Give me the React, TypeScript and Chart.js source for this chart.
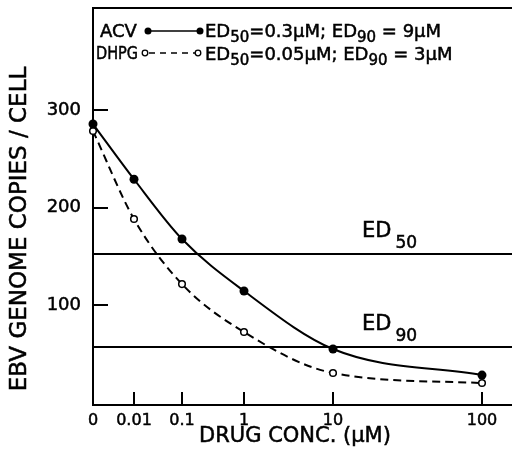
import React, { useEffect, useRef } from 'react';
import { Chart, registerables, LinearScale } from 'chart.js';

// ---------------- data ----------------
const CONCENTRATIONS = [0, 0.01, 0.1, 1, 10, 100];
const X_TICK_LABELS = ['0', '0.01', '0.1', '1', '10', '100'];
const ACV_COPIES = [285.6, 229, 167.7, 114.4, 54.9, 28.2];
const DHPG_COPIES = [278.5, 188.2, 121.5, 72.3, 30.3, 20];
const Y_TICKS = [100, 200, 300];
const ED50_LEVEL = 152;
const ED90_LEVEL = 57;

// hand-drawn, non-uniform x axis: fraction of axis length at which each concentration tick sits
const X_AXIS_FRACTIONS = [0, 41 / 419, 89 / 419, 151 / 419, 240 / 419, 389 / 419];

const FONT = "'DejaVu Sans', sans-serif";
const TEXT_STROKE = 0.5;

function fracFor(v: number): number {
  const c = CONCENTRATIONS;
  const f = X_AXIS_FRACTIONS;
  if (v <= 0) return 0;
  if (v <= c[1]) return (v / c[1]) * f[1];
  for (let i = 1; i < c.length - 1; i++) {
    if (v <= c[i + 1]) {
      const t = (Math.log10(v) - Math.log10(c[i])) / (Math.log10(c[i + 1]) - Math.log10(c[i]));
      return f[i] + t * (f[i + 1] - f[i]);
    }
  }
  const n = c.length - 1;
  const t = (Math.log10(v) - Math.log10(c[n])) / (Math.log10(c[n]) - Math.log10(c[n - 1]));
  return f[n] + t * (f[n] - f[n - 1]);
}

class PiecewiseScale extends LinearScale {
  static id = 'piecewise';
  static defaults = LinearScale.defaults;
  axisEnd() {
    const self = this as any;
    return self.chart && self.chart.width ? self.chart.width : self.right;
  }
  getPixelForValue(value: number) {
    if (value === null || value === undefined || isNaN(value)) return NaN;
    const self = this as any;
    return self.left + (this.axisEnd() - self.left) * fracFor(value);
  }
  getValueForPixel(pixel: number) {
    const self = this as any;
    const fr = (pixel - self.left) / (this.axisEnd() - self.left);
    const c = CONCENTRATIONS;
    const f = X_AXIS_FRACTIONS;
    if (fr <= f[1]) return (fr / f[1]) * c[1];
    for (let i = 1; i < c.length - 1; i++) {
      if (fr <= f[i + 1]) {
        const t = (fr - f[i]) / (f[i + 1] - f[i]);
        return Math.pow(10, Math.log10(c[i]) + t * (Math.log10(c[i + 1]) - Math.log10(c[i])));
      }
    }
    return c[c.length - 1];
  }
}

Chart.register(...registerables, PiecewiseScale);

function text(ctx: CanvasRenderingContext2D, t: string, x: number, y: number, maxW?: number) {
  if (maxW) {
    ctx.fillText(t, x, y, maxW);
    ctx.strokeText(t, x, y, maxW);
  } else {
    ctx.fillText(t, x, y);
    ctx.strokeText(t, x, y);
  }
}

function drawSubText(
  ctx: CanvasRenderingContext2D,
  parts: { t: string; sub?: boolean; gap?: number }[],
  x: number,
  y: number,
  big: number,
  small: number,
  subDrop: number
) {
  ctx.textAlign = 'left';
  ctx.textBaseline = 'alphabetic';
  let cx = x;
  for (const p of parts) {
    cx += p.gap || 0;
    ctx.font = `${p.sub ? small : big}px ${FONT}`;
    text(ctx, p.t, cx, p.sub ? y + subDrop : y);
    cx += ctx.measureText(p.t).width;
  }
  return cx;
}

const decorPlugin = {
  id: 'decor',
  beforeDatasetsDraw(chart: any) {
    const { ctx, chartArea, scales } = chart;
    const y = scales.y;
    const x = scales.x;
    ctx.save();
    ctx.strokeStyle = '#000';
    ctx.lineWidth = 2;
    // frame top and bottom axis
    ctx.beginPath();
    ctx.moveTo(chartArea.left, chartArea.top);
    ctx.lineTo(chart.width, chartArea.top);
    ctx.moveTo(chartArea.left - 1, chartArea.bottom);
    ctx.lineTo(chart.width, chartArea.bottom);
    ctx.stroke();
    // ED lines
    for (const lvl of [ED50_LEVEL, ED90_LEVEL]) {
      const py = Math.round(y.getPixelForValue(lvl));
      ctx.beginPath();
      ctx.moveTo(chartArea.left, py);
      ctx.lineTo(chart.width, py);
      ctx.stroke();
    }
    // inward ticks
    for (const v of Y_TICKS) {
      const py = Math.round(y.getPixelForValue(v));
      ctx.beginPath();
      ctx.moveTo(chartArea.left, py);
      ctx.lineTo(chartArea.left + 15, py);
      ctx.stroke();
    }
    for (const v of CONCENTRATIONS) {
      if (v === 0) continue;
      const px = Math.round(x.getPixelForValue(v));
      ctx.beginPath();
      ctx.moveTo(px, chartArea.bottom);
      ctx.lineTo(px, chartArea.bottom - 13);
      ctx.stroke();
    }
    ctx.restore();
  },
  afterDraw(chart: any) {
    const { ctx, scales } = chart;
    const y = scales.y;
    ctx.save();
    ctx.fillStyle = '#000';
    ctx.strokeStyle = '#000';
    ctx.lineWidth = TEXT_STROKE;
    // ED labels
    const e50 = y.getPixelForValue(ED50_LEVEL);
    const e90 = y.getPixelForValue(ED90_LEVEL);
    drawSubText(ctx, [{ t: 'ED' }, { t: '50', sub: true, gap: 4 }], 362, e50 - 17, 21, 17, 11);
    drawSubText(ctx, [{ t: 'ED' }, { t: '90', sub: true, gap: 4 }], 362, e90 - 17, 21, 17, 11);

    // axis titles
    ctx.textAlign = 'center';
    ctx.textBaseline = 'middle';
    ctx.font = `21px ${FONT}`;
    text(ctx, 'DRUG CONC. (\u00b5M)', 295, 437);
    ctx.save();
    ctx.translate(20, 229);
    ctx.rotate(-Math.PI / 2);
    ctx.font = `23px ${FONT}`;
    text(ctx, 'EBV GENOME COPIES / CELL', 0, 0, 334);
    ctx.restore();

    // legend
    ctx.textAlign = 'left';
    ctx.textBaseline = 'alphabetic';
    ctx.font = `18px ${FONT}`;
    text(ctx, 'ACV', 100, 37, 39);
    ctx.font = `17px ${FONT}`;
    text(ctx, 'DHPG', 96, 59, 42);
    // ACV sample
    ctx.lineWidth = 1.5;
    ctx.beginPath();
    ctx.moveTo(148, 31);
    ctx.lineTo(200, 31);
    ctx.stroke();
    for (const px of [148, 200]) {
      ctx.beginPath();
      ctx.arc(px, 31, 3.5, 0, Math.PI * 2);
      ctx.fill();
    }
    // DHPG sample
    ctx.setLineDash([6, 5]);
    ctx.beginPath();
    ctx.moveTo(149, 53);
    ctx.lineTo(195, 53);
    ctx.stroke();
    ctx.setLineDash([]);
    ctx.lineWidth = 1.3;
    for (const px of [145, 198]) {
      ctx.beginPath();
      ctx.arc(px, 53, 2.8, 0, Math.PI * 2);
      ctx.fillStyle = '#fff';
      ctx.fill();
      ctx.stroke();
    }
    ctx.fillStyle = '#000';
    ctx.lineWidth = TEXT_STROKE;
    drawSubText(
      ctx,
      [{ t: 'ED' }, { t: '50', sub: true }, { t: '=0.3\u00b5M; ED' }, { t: '90', sub: true }, { t: ' = 9\u00b5M' }],
      205, 37, 18, 15, 5
    );
    drawSubText(
      ctx,
      [{ t: 'ED' }, { t: '50', sub: true }, { t: '=0.05\u00b5M; ED' }, { t: '90', sub: true }, { t: ' = 3\u00b5M' }],
      205, 60, 18, 15, 5
    );
    ctx.restore();
  },
};

export default function App() {
  const ref = useRef<HTMLCanvasElement>(null);
  useEffect(() => {
    if (!ref.current) return;
    const chart = new Chart(ref.current, {
      type: 'line',
      data: {
        datasets: [
          {
            label: 'ACV',
            data: CONCENTRATIONS.map((c, i) => ({ x: c, y: ACV_COPIES[i] })),
            borderColor: '#000',
            backgroundColor: '#000',
            borderWidth: 2,
            pointRadius: 4.5,
            pointBackgroundColor: '#000',
            pointBorderWidth: 0,
            cubicInterpolationMode: 'monotone',
            clip: false,
          },
          {
            label: 'DHPG',
            data: CONCENTRATIONS.map((c, i) => ({ x: c, y: DHPG_COPIES[i] })),
            borderColor: '#000',
            backgroundColor: '#fff',
            borderWidth: 2,
            borderDash: [8, 5],
            pointRadius: 3.3,
            pointBackgroundColor: '#fff',
            pointBorderColor: '#000',
            pointBorderWidth: 1.5,
            cubicInterpolationMode: 'monotone',
            clip: false,
          },
        ],
      },
      options: {
        responsive: false,
        animation: false,
        events: [],
        layout: { padding: { top: 8, right: 0, left: 0, bottom: 0 } },
        plugins: { legend: { display: false }, tooltip: { enabled: false } },
        scales: {
          x: {
            type: 'piecewise' as any,
            position: 'bottom',
            min: 0,
            max: 100,
            afterBuildTicks: (s: any) => {
              s.ticks = CONCENTRATIONS.map((v) => ({ value: v }));
            },
            afterFit: (s: any) => {
              s.height = 53;
              s.paddingRight = 0;
              s.paddingLeft = 0;
            },
            ticks: {
              autoSkip: false,
              maxRotation: 0,
              color: '#000',
              padding: 6,
              textStrokeColor: '#000',
              textStrokeWidth: TEXT_STROKE,
              font: { family: FONT, size: 16 },
              callback: (_v: any, i: number) => X_TICK_LABELS[i],
            },
            grid: { display: false, drawTicks: false },
            border: { display: false },
          } as any,
          y: {
            type: 'linear',
            min: -2.5,
            max: 404.6,
            afterBuildTicks: (s: any) => {
              s.ticks = Y_TICKS.map((v) => ({ value: v }));
            },
            afterFit: (s: any) => {
              s.width = 93;
              s.paddingTop = 0;
              s.paddingBottom = 0;
            },
            ticks: {
              color: '#000',
              padding: 12,
              textStrokeColor: '#000',
              textStrokeWidth: TEXT_STROKE,
              font: { family: FONT, size: 18 },
              callback: (v: any) => String(v),
            },
            grid: { display: false, drawTicks: false },
            border: { display: true, color: '#000', width: 2 },
          } as any,
        },
      },
      plugins: [decorPlugin],
    });
    return () => chart.destroy();
  }, []);
  return (
    <div style={{ position: 'absolute', left: 0, top: 0, width: 512, height: 458, background: '#fff' }}>
      <canvas ref={ref} width={512} height={458} style={{ display: 'block' }} />
    </div>
  );
}
